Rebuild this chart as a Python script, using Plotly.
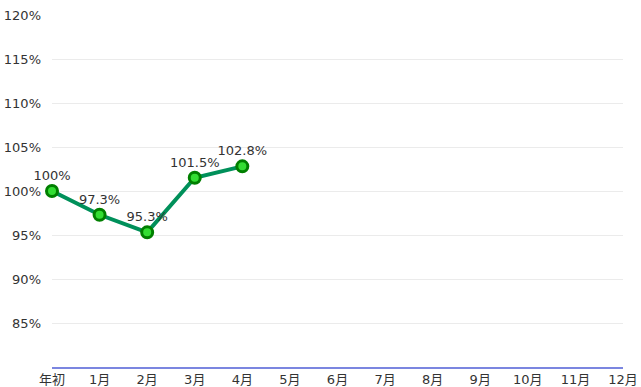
import plotly.graph_objects as go

categories = ["年初", "1月", "2月", "3月", "4月", "5月", "6月", "7月", "8月", "9月", "10月", "11月", "12月"]
values = [100, 97.3, 95.3, 101.5, 102.8]
labels = ["100%", "97.3%", "95.3%", "101.5%", "102.8%"]
y_ticks = [85, 90, 95, 100, 105, 110, 115, 120]
y_ticktext = [f"{v}%" for v in y_ticks]

font_family = "DejaVu Sans, Noto Sans CJK JP, sans-serif"

fig = go.Figure()
fig.add_trace(go.Scatter(
    x=list(range(len(values))),
    y=values,
    mode="lines+markers+text",
    text=labels,
    textposition="top center",
    textfont=dict(family=font_family, size=13, color="#333333"),
    line=dict(color="#00905a", width=4),
    marker=dict(size=11, color="#33dd33", line=dict(color="#007f00", width=3)),
    cliponaxis=False,
    showlegend=False,
))

fig.update_layout(
    width=641, height=387,
    margin=dict(l=52, r=18, t=15, b=20),
    paper_bgcolor="white", plot_bgcolor="white",
    font=dict(family=font_family, size=13, color="#333333"),
)
fig.update_xaxes(
    range=[0, 12],
    tickmode="array",
    tickvals=list(range(len(categories))),
    ticktext=categories,
    showgrid=False,
    zeroline=False,
    showline=True, linecolor="#7b86e0", linewidth=1.5,
    ticks="", tickfont=dict(size=13),
    automargin=False,
)
fig.update_yaxes(
    range=[80, 120],
    tickmode="array",
    tickvals=y_ticks,
    ticktext=y_ticktext,
    showgrid=True, gridcolor="#ebebeb", gridwidth=1,
    zeroline=False, showline=False,
    ticks="", ticklabelstandoff=10, tickfont=dict(size=13),
    automargin=False,
)

fig.write_html(
    "out.html",
    config={"displayModeBar": False},
    post_script="document.body.style.margin='0px';document.body.style.overflow='hidden';",
)
